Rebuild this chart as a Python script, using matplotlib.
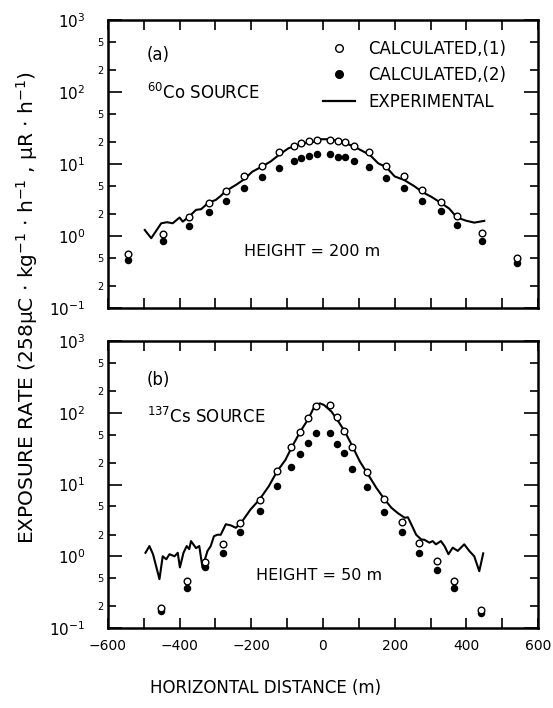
import math
import matplotlib
matplotlib.use("Agg")
import matplotlib.pyplot as plt
from matplotlib.lines import Line2D
from matplotlib.ticker import LogLocator, FuncFormatter, MultipleLocator, NullFormatter

plt.rcParams['font.family'] = ['DejaVu Sans']
plt.rcParams['mathtext.default'] = 'regular'

# (a) 60Co source, height 200 m
x_a = [-545, -447, -373, -319, -270, -220, -170, -122, -82, -60,
       -38, -17, 20, 42, 62, 87, 128, 177, 226, 276,
       328, 374, 445, 542]
calc1_a = [0.56, 1.05, 1.86, 2.9, 4.25, 6.8, 9.4, 14.4, 18.0, 19.8,
           21.0, 21.5, 21.5, 20.9, 20.0, 18.0, 14.4, 9.5, 6.9, 4.35,
           3.0, 1.9, 1.09, 0.5]
calc2_a = [0.47, 0.85, 1.38, 2.18, 3.1, 4.6, 6.5, 8.9, 11.0, 12.2,
           12.9, 13.8, 13.8, 12.6, 12.6, 11.0, 9.2, 6.3, 4.7, 3.1,
           2.2, 1.42, 0.85, 0.42]
exp_a_x = [-497, -479, -451, -435, -419, -400, -391, -373, -354, -340,
           -319, -299, -285, -271, -243, -220, -197, -170, -146, -123,
           -96, -68, -40, -22, -12, 15, 40, 62, 87, 108,
           131, 154, 177, 200, 226, 255, 276, 302, 328, 352,
           374, 399, 422, 450]
exp_a_y = [1.21, 0.93, 1.5, 1.55, 1.5, 1.8, 1.58, 1.86, 2.3, 2.35,
           2.9, 3.16, 3.6, 4.2, 5.1, 6.1, 7.8, 9.2, 10.8, 13.3,
           16.5, 18.4, 19.8, 20.4, 22, 22, 21, 19.4, 17.4, 15.3,
           13.3, 10.2, 9.0, 6.7, 6.0, 4.9, 4.1, 3.5, 2.9, 2.4,
           1.8, 1.63, 1.53, 1.62]

# (b) 137Cs source, height 50 m
x_b = [-451, -380, -328, -278, -230, -176, -128, -89, -63, -43,
       -20, 20, 38, 59, 80, 122, 170, 220, 268, 317,
       366, 440]
calc1_b = [0.19, 0.45, 0.83, 1.5, 2.94, 6.2, 15.3, 33, 55, 84,
           125, 129, 89, 56, 33, 14.8, 6.3, 3.0, 1.55, 0.86,
           0.45, 0.18]
calc2_b = [0.17, 0.36, 0.72, 1.12, 2.18, 4.3, 9.5, 17.4, 27, 38,
           52, 52, 37, 27.5, 16.7, 9.3, 4.1, 2.18, 1.12, 0.65,
           0.36, 0.16]
exp_b_x = [-495, -484, -474, -456, -447, -437, -428, -414, -405, -399,
           -389, -380, -373, -368, -354, -345, -336, -322, -313, -304,
           -294, -285, -271, -257, -243, -229, -202, -177, -151, -128,
           -105, -86, -63, -40, -22, -8, 3, 24, 43, 61,
           80, 103, 126, 149, 172, 191, 209, 228, 237, 251,
           260, 274, 283, 297, 306, 315, 329, 339, 350, 362,
           376, 394, 408, 422, 436, 447]
exp_b_y = [1.12, 1.39, 1.07, 0.48, 1.0, 0.91, 1.07, 1.0, 1.12, 0.7,
           1.12, 1.39, 1.26, 1.63, 1.3, 1.39, 0.7, 1.19, 1.39, 1.91,
           2.0, 2.0, 2.8, 2.7, 2.5, 2.9, 4.5, 6.2, 9.5, 15.3,
           22, 34, 55, 84, 129, 136, 129, 104, 76, 55,
           36, 21, 13.8, 9.0, 6.2, 4.75, 4.0, 3.45, 3.5, 2.5,
           2.0, 1.72, 1.7, 1.55, 1.63, 1.47, 1.63, 1.39, 1.07, 1.32,
           1.19, 1.47, 1.19, 1.0, 0.62, 1.1]

x_ticks = [-600, -400, -200, 0, 200, 400, 600]

fig = plt.figure(figsize=(5.53, 7.08), dpi=100)
ax_a = fig.add_axes([0.195, 0.565, 0.778, 0.407])
ax_b = fig.add_axes([0.195, 0.113, 0.778, 0.405])


def major_fmt(v, pos):
    return r'10$^{%d}$' % round(math.log10(v))


def minor_fmt(v, pos):
    return '%d' % round(v / 10 ** math.floor(math.log10(v) + 1e-9))


def style(ax):
    ax.set_yscale('log')
    ax.set_ylim(0.1, 1000)
    ax.set_xlim(-600, 600)
    ax.yaxis.set_major_locator(LogLocator(base=10, numticks=10))
    ax.yaxis.set_minor_locator(LogLocator(base=10, subs=(2, 5), numticks=10))
    ax.yaxis.set_major_formatter(FuncFormatter(major_fmt))
    ax.yaxis.set_minor_formatter(FuncFormatter(minor_fmt))
    ax.set_xticks(x_ticks)
    ax.xaxis.set_minor_locator(MultipleLocator(100))
    ax.tick_params(axis='both', which='both', direction='in', top=True, right=True, width=1.2)
    ax.tick_params(axis='y', which='major', length=10, pad=16, labelsize=11)
    ax.tick_params(axis='y', which='minor', length=6, pad=3, labelsize=7)
    ax.tick_params(axis='x', which='both', length=7, labelsize=10, pad=8)
    for s in ax.spines.values():
        s.set_linewidth(1.8)


for ax in (ax_a, ax_b):
    style(ax)

# panel (a)
ax_a.plot(exp_a_x, exp_a_y, color='black', lw=1.5)
ax_a.plot(x_a, calc2_a, 'o', color='black', ms=4.4, ls='none')
ax_a.plot(x_a, calc1_a, 'o', mfc='white', mec='black', mew=1.0, ms=4.8, ls='none')
ax_a.xaxis.set_major_formatter(NullFormatter())
ax_a.text(0.09, 0.878, '(a)', transform=ax_a.transAxes, fontsize=12, va='center')
ax_a.text(0.092, 0.747, '$^{60}$Co SOURCE', transform=ax_a.transAxes, fontsize=12, va='center')
ax_a.text(-30, 0.6, 'HEIGHT = 200 m', fontsize=11.5, va='center', ha='center')

handles = [
    Line2D([], [], marker='o', mfc='white', mec='black', ls='none', ms=5.5),
    Line2D([], [], marker='o', color='black', ls='none', ms=5.5),
    Line2D([], [], color='black', lw=1.6),
]
ax_a.legend(handles, ['CALCULATED,(1)', 'CALCULATED,(2)', 'EXPERIMENTAL'],
            loc='upper left', bbox_to_anchor=(0.5, 0.93), frameon=False,
            fontsize=12, handlelength=1.9, handletextpad=0.84, labelspacing=0.5,
            borderpad=0, borderaxespad=0)

# panel (b)
ax_b.plot(exp_b_x, exp_b_y, color='black', lw=1.5)
ax_b.plot(x_b, calc2_b, 'o', color='black', ms=4.4, ls='none')
ax_b.plot(x_b, calc1_b, 'o', mfc='white', mec='black', mew=1.0, ms=4.8, ls='none')
ax_b.text(0.09, 0.864, '(b)', transform=ax_b.transAxes, fontsize=12, va='center')
ax_b.text(0.092, 0.735, '$^{137}$Cs SOURCE', transform=ax_b.transAxes, fontsize=12, va='center')
ax_b.text(-12, 0.54, 'HEIGHT = 50 m', fontsize=11.5, va='center', ha='center')

fig.text(0.48, 0.028, 'HORIZONTAL DISTANCE (m)', fontsize=12, ha='center', va='center')
fig.text(0.049, 0.565,
         r'EXPOSURE RATE (258$\mu$C $\cdot$ kg$^{-1}$ $\cdot$ h$^{-1}$ , $\mu$R $\cdot$ h$^{-1}$)',
         rotation=90, fontsize=14.5, ha='center', va='center')

fig.savefig('out.png', dpi=100)
